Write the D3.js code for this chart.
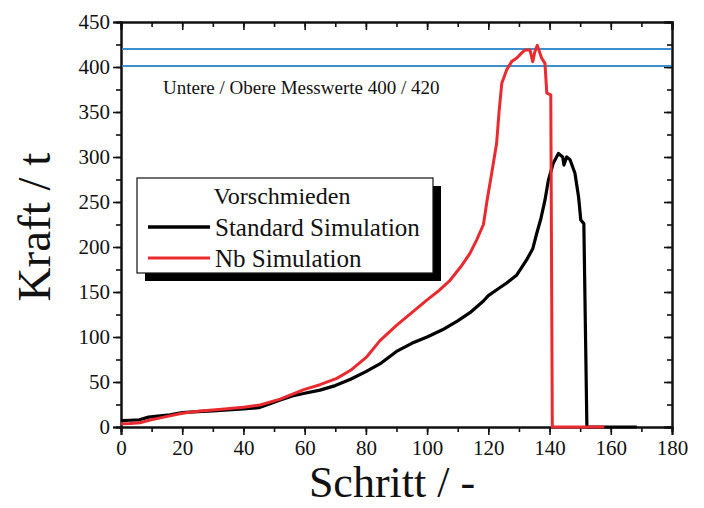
<!DOCTYPE html>
<html>
<head>
<meta charset="utf-8">
<script src="https://cdn.jsdelivr.net/npm/d3@7/dist/d3.min.js"></script>
<style>
  html, body { margin: 0; padding: 0; background: #fff; }
  svg text { font-family: "Liberation Serif", "Times New Roman", serif; fill: #111; }
</style>
</head>
<body>
<svg id="chart" width="704" height="508"></svg>
<script>
// ---- data ----
const xTicks = [0, 20, 40, 60, 80, 100, 120, 140, 160, 180];
const yTicks = [0, 50, 100, 150, 200, 250, 300, 350, 400, 450];
const refLevels = [401, 420];
const annotationText = "Untere / Obere Messwerte 400 / 420";
const legendTitle = "Vorschmieden";
const seriesNames = ["Standard Simulation", "Nb Simulation"];

const standardX = [0, 3, 6, 9, 12, 16, 20, 25, 30, 35, 40, 45, 48, 52, 56, 60, 65, 70, 75, 80, 85, 90, 95, 100, 105, 110, 114, 118.4, 120, 123, 126, 129.3, 132.5, 134.5, 135.8, 137.2, 138.5, 139.6, 141.2, 142.9, 144.3, 144.7, 145.6, 146.7, 148.3, 149.5, 150.2, 151.2, 152.2, 160, 168.5];
const standardY = [7, 7.5, 8, 11, 12, 13.5, 16, 17, 18, 19, 20, 21.5, 25, 30, 34.5, 37.5, 41, 46, 53, 61.5, 71, 84, 93, 100, 108, 118, 127, 140, 146, 153, 160, 169, 185.6, 198, 215, 232, 252, 274, 293, 304, 300, 291, 300, 297, 282, 255, 230, 226, 0, 0, 0];

const nbX = [0, 3, 6.2, 9.5, 14, 20, 25.8, 32, 40, 45.4, 52, 59.7, 65, 70.5, 75, 80.3, 84.6, 90, 95, 99.9, 104, 107.5, 111, 114, 116.2, 118.4, 119.6, 121, 122.7, 123.5, 124.4, 126, 127.6, 129.3, 131, 132, 133.6, 134.5, 135.2, 136, 137.4, 138.5, 139.1, 140.4, 140.9, 157.9];
const nbY = [3.5, 4, 4.8, 7.8, 11, 15.2, 17.8, 19.5, 21.9, 24.4, 31, 41.5, 47, 54, 63, 78, 96, 113, 127, 141, 152, 163, 178, 193, 208, 225, 252, 280, 315, 350, 382, 397, 406, 410, 416, 419, 419, 406, 417, 424, 410, 404, 371, 369, 0, 0];

// ---- layout ----
const svg = d3.select("#chart");
const x = d3.scaleLinear().domain([0, 180]).range([121, 672]);
const y = d3.scaleLinear().domain([0, 450]).range([427, 22]);
const fontTick = 21;

function styleAxis(g) {
  g.select(".domain").attr("stroke", "#111").attr("stroke-width", 2);
  g.selectAll(".tick line").attr("stroke", "#111").attr("stroke-width", 1.6);
  g.selectAll(".tick text").style("font-size", fontTick + "px").style("font-family", '"Liberation Serif", "Times New Roman", serif').attr("fill", "#111");
}

const minorX = d3.range(0, 181, 10);
const minorY = d3.range(0, 451, 25);

// bottom axis
svg.append("g").attr("transform", `translate(0,${y(0)})`)
  .call(d3.axisBottom(x).tickValues(minorX).tickSize(5).tickFormat(""))
  .call(styleAxis);
svg.append("g").attr("transform", `translate(0,${y(0)})`)
  .call(d3.axisBottom(x).tickValues(xTicks).tickSize(8).tickPadding(5).tickFormat(d3.format("d")))
  .call(styleAxis);
// top axis (inward)
svg.append("g").attr("transform", `translate(0,${y(450)})`)
  .call(d3.axisTop(x).tickValues(minorX).tickSize(-5).tickFormat(""))
  .call(styleAxis);
svg.append("g").attr("transform", `translate(0,${y(450)})`)
  .call(d3.axisTop(x).tickValues(xTicks).tickSize(-8).tickFormat(""))
  .call(styleAxis);
// left axis
svg.append("g").attr("transform", `translate(${x(0)},0)`)
  .call(d3.axisLeft(y).tickValues(minorY).tickSize(5).tickFormat(""))
  .call(styleAxis);
svg.append("g").attr("transform", `translate(${x(0)},0)`)
  .call(d3.axisLeft(y).tickValues(yTicks).tickSize(8).tickPadding(3).tickFormat(d3.format("d")))
  .call(styleAxis);
// right axis (inward)
svg.append("g").attr("transform", `translate(${x(180)},0)`)
  .call(d3.axisRight(y).tickValues(minorY).tickSize(-5).tickFormat(""))
  .call(styleAxis);
svg.append("g").attr("transform", `translate(${x(180)},0)`)
  .call(d3.axisRight(y).tickValues(yTicks).tickSize(-8).tickFormat(""))
  .call(styleAxis);

// reference lines
svg.selectAll(".ref").data(refLevels).enter().append("line")
  .attr("x1", x(0) + 1).attr("x2", x(180) - 1)
  .attr("y1", d => y(d)).attr("y2", d => y(d))
  .attr("stroke", "#3b8fce").attr("stroke-width", 2);

svg.append("text").attr("x", 163).attr("y", 94)
  .style("font-size", "19px").text(annotationText);

// series
const line = d3.line().x(d => x(d[0])).y(d => y(d[1]));
const stdData = standardX.map((v, i) => [v, standardY[i]]);
const nbData = nbX.map((v, i) => [v, nbY[i]]);
svg.append("path").datum(stdData).attr("d", line)
  .attr("fill", "none").attr("stroke", "#000").attr("stroke-width", 3.2).attr("stroke-linejoin", "round");
svg.append("path").datum(nbData).attr("d", line)
  .attr("fill", "none").attr("stroke", "#ea2a2e").attr("stroke-width", 3).attr("stroke-linejoin", "round");

// legend
const lg = { x: 137, y: 178, w: 296, h: 95 };
svg.append("rect").attr("x", lg.x + 8).attr("y", lg.y + 8).attr("width", lg.w).attr("height", lg.h).attr("fill", "#000");
svg.append("rect").attr("x", lg.x).attr("y", lg.y).attr("width", lg.w).attr("height", lg.h)
  .attr("fill", "#fff").attr("stroke", "#111").attr("stroke-width", 1.2);
svg.append("text").attr("x", lg.x + lg.w / 2 - 3).attr("y", lg.y + 26).attr("text-anchor", "middle")
  .style("font-size", "24px").text(legendTitle);
const legendColors = ["#000", "#ea2a2e"];
seriesNames.forEach((name, i) => {
  const yy = lg.y + 49 + i * 31;
  svg.append("line").attr("x1", lg.x + 11).attr("x2", lg.x + 73).attr("y1", yy).attr("y2", yy)
    .attr("stroke", legendColors[i]).attr("stroke-width", i === 0 ? 3.5 : 3);
  svg.append("text").attr("x", lg.x + 78).attr("y", yy + 9).style("font-size", "25px").text(name);
});

// axis titles
svg.append("text").attr("transform", `translate(50,227) rotate(-90)`).attr("text-anchor", "middle")
  .style("font-size", "47px").text("Kraft / t");
svg.append("text").attr("x", 392).attr("y", 497).attr("text-anchor", "middle")
  .style("font-size", "44px").text("Schritt / -");
</script>
</body>
</html>
